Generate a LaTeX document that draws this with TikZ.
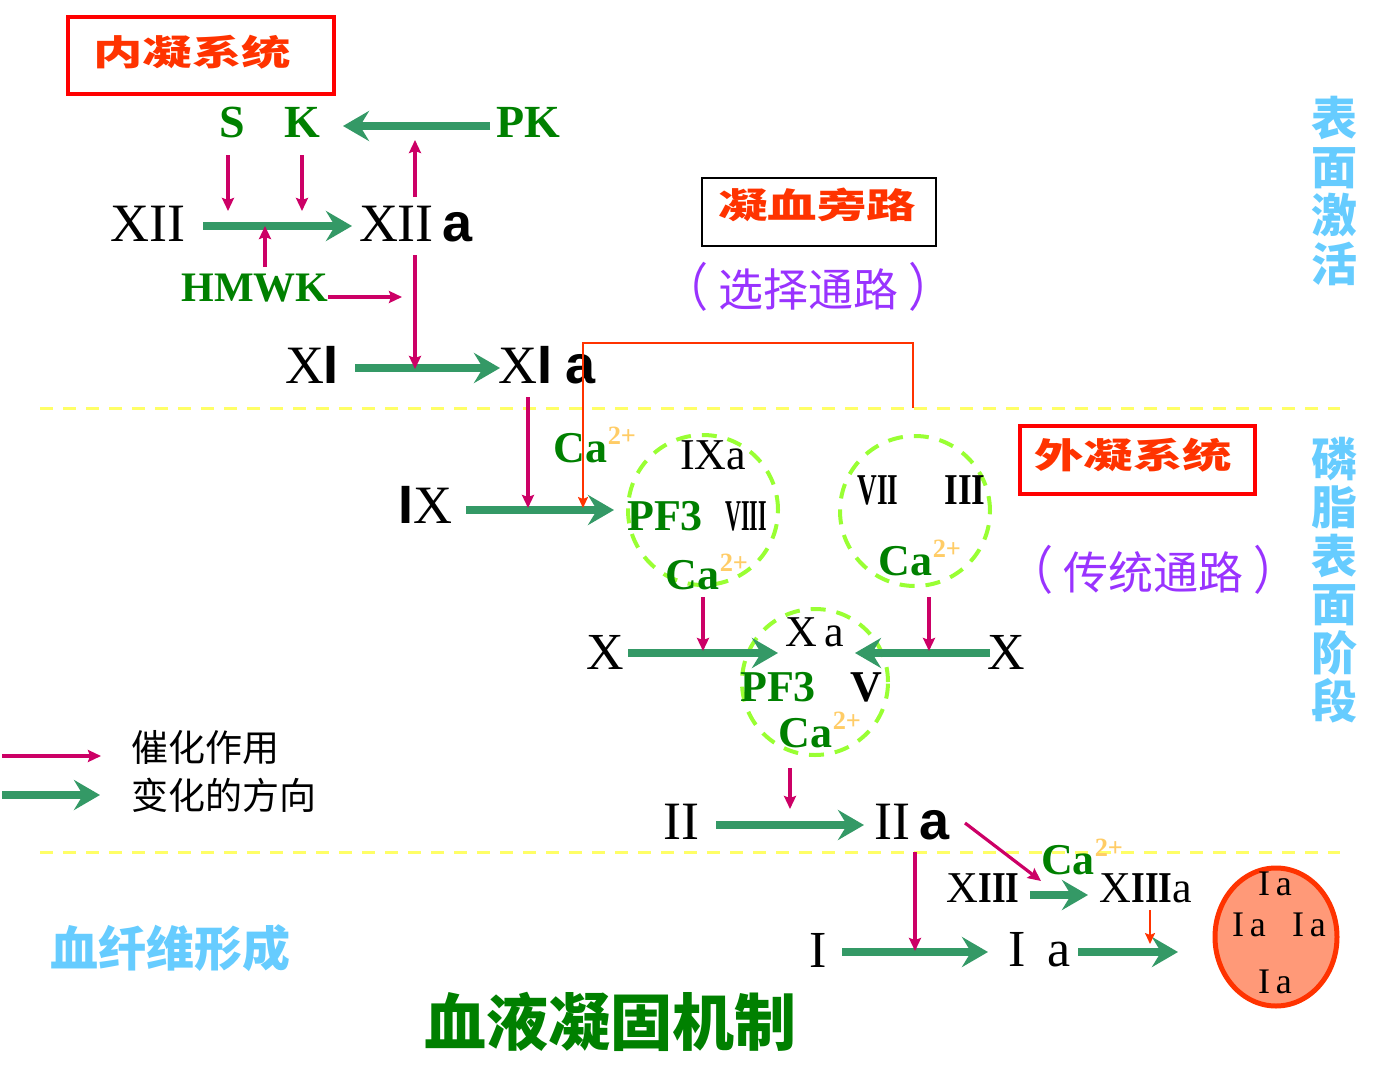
\documentclass[tikz,border=0pt]{standalone}
\usepackage{fontspec}
\setmainfont{Liberation Serif}
\setsansfont{Liberation Sans}
\newfontfamily\cjk{Noto Sans CJK SC}
\usetikzlibrary{arrows.meta,shapes.geometric}
\definecolor{garrow}{RGB}{52,153,102}
\definecolor{mag}{RGB}{204,0,102}
\definecolor{tgreen}{RGB}{0,128,0}
\definecolor{tred}{RGB}{255,51,0}
\definecolor{bred}{RGB}{255,0,0}
\definecolor{caor}{RGB}{255,204,102}
\definecolor{ydash}{RGB}{255,255,102}
\definecolor{cdash}{RGB}{153,255,51}
\definecolor{purp}{RGB}{153,51,255}
\definecolor{lblue}{RGB}{102,204,255}
\definecolor{efill}{RGB}{255,153,120}
\newcommand\fs[1]{\fontsize{#1}{#1}\selectfont}
\newcommand\CaIon{\textbf{Ca}\raisebox{0.42em}{\scalebox{0.6}{\textbf{\color{caor}2+}}}}
\newcommand\ba{{\sffamily\bfseries a}}
\newcommand\bl{{\sffamily\bfseries I}}
\newcommand\ttl[1]{\scalebox{1.3}[0.92]{#1}}
\newcommand\prn[1]{\scalebox{1}[1.15]{（}\kern10pt #1\kern10pt \scalebox{1}[1.15]{）}}
\tikzset{
  lab/.style={inner sep=0pt, anchor=center},
  big/.style={lab, font=\fs{54}},
  mid/.style={lab, font=\fs{44}},
  gb/.style={lab, text=tgreen, font=\fs{46}\bfseries},
  ca/.style={lab, text=tgreen, font=\fs{44}},
  title/.style={inner sep=0pt, anchor=center, text=tred, font=\cjk\fs{38}\bfseries},
  gar/.style={draw=garrow, line width=8pt, -{Stealth[length=26pt,width=30pt,inset=9pt]}},
  mar/.style={draw=mag, line width=3.2pt, -{Stealth[length=13pt,width=12pt,inset=2pt]}},
  oar/.style={draw=tred, line width=1.8pt, -{Stealth[length=11pt,width=10pt,inset=2pt]}},
  ydl/.style={draw=ydash, line width=3pt, dash pattern=on 13pt off 10pt},
  cplx/.style={draw=cdash, line width=4pt, dash pattern=on 15pt off 11pt, circle, inner sep=0pt},
  vt/.style={lab, text=lblue, align=center, font=\cjk\bfseries\fontsize{46}{48.5}\selectfont},
}
\begin{document}
\begin{tikzpicture}[x=1pt,y=-1pt]
\useasboundingbox (0,0) rectangle (1385,1071);
% boxes and titles
\node[draw=bred, line width=4pt, minimum width=266pt, minimum height=77pt, inner sep=0pt] (intbox) at (201,55.5) {};
\node[title] (inttxt) at (192,52) {\ttl{内凝系统}};
\node[draw=black, line width=2pt, minimum width=234pt, minimum height=68pt, inner sep=0pt] (bybox) at (819,212) {};
\node[title] (bytxt) at (817,205) {\ttl{凝血旁路}};
\node[draw=bred, line width=4pt, minimum width=235pt, minimum height=68pt, inner sep=0pt] (extbox) at (1137.5,460) {};
\node[title] (exttxt) at (1133,455) {\ttl{外凝系统}};
\node[lab, text=purp, font=\cjk\fs{45}] (sel) at (808,287) {\prn{选择通路}};
\node[lab, text=purp, font=\cjk\fs{45}] (trad) at (1153,570) {\prn{传统通路}};
\node[vt] (surf) at (1334,191) {表\\面\\激\\活};
\node[vt] (phos) at (1334,580) {磷\\脂\\表\\面\\阶\\段};
\node[lab, text=lblue, font=\cjk\bfseries\fs{48}] (fib) at (170,948) {血纤维形成};
\node[lab, text=tgreen, font=\cjk\bfseries\fs{62}] (mech) at (610,1022) {血液凝固机制};
\node[lab, font=\cjk\fs{37}] (leg1) at (205,748) {催化作用};
\node[lab, font=\cjk\fs{37}] (leg2) at (224,795) {变化的方向};
% dashed separators
\coordinate (y1a) at (40,408); \coordinate (y1b) at (1340,408);
\coordinate (y2a) at (40,852); \coordinate (y2b) at (1340,852);
\draw[ydl] (y1a) -- (y1b);
\draw[ydl] (y2a) -- (y2b);
% intrinsic factors
\node[gb] (S) at (232,122) {S};
\node[gb] (K) at (302,122) {K};
\node[gb] (PK) at (528,122) {PK};
\node[gb, font=\fs{42}\bfseries] (HMWK) at (255,288) {HMWK};
\node[big] (XII) at (148,224) {XII};
\node[big] (XIIa) at (416,224) {XII\,\ba};
\node[big] (XI) at (312,365) {X\bl};
\node[big] (XIa) at (547,365) {X\bl\ \ba};
\node[big] (IX) at (425,505) {\bl X};
\node[ca] (Ca1) at (595,445) {\CaIon};
% complexes
\node[cplx, minimum size=150pt] (c1) at (703,510) {};
\node[cplx, minimum size=150pt] (c2) at (915,511) {};
\node[cplx, minimum size=146pt] (c3) at (815,682) {};
\node[mid] (IXa) at (713,455) {IXa};
\node[gb, font=\fs{44}\bfseries] (PF3a) at (665,516) {PF3};
\node[mid] (VIII) at (746,516) {\scalebox{0.5}[1]{\bfseries VIII}};
\node[ca] (Ca2) at (707,572) {\CaIon};
\node[mid] (VII) at (878,490) {\scalebox{0.62}[1]{\bfseries VII}};
\node[mid] (III) at (965,490) {\scalebox{0.8}[1]{\bfseries III}};
\node[ca] (Ca3) at (920,558) {\CaIon};
\node[mid] (Xa) at (815,632) {X\,a};
\node[gb, font=\fs{44}\bfseries] (PF3b) at (778,687) {PF3};
\node[mid] (V) at (866,687) {\bfseries V};
\node[ca] (Ca4) at (820,730) {\CaIon};
\node[big, font=\fs{52}] (Xl) at (605,652) {X};
\node[big, font=\fs{52}] (Xr) at (1006,652) {X};
\node[big] (II) at (681,822) {II};
\node[big] (IIa) at (912,822) {II\,\ba};
\node[ca] (Ca5) at (1082,857) {\CaIon};
\node[mid] (XIII) at (983,888) {X\scalebox{0.8}[1]{\bfseries III}};
\node[mid] (XIIIa) at (1146,888) {X\scalebox{0.8}[1]{\bfseries III}a};
\node[big, font=\fs{52}] (I) at (818,950) {I};
\node[big, font=\fs{52}] (Ia) at (1040,950) {I\ \,a};
% clot
\node[draw=tred, fill=efill, line width=5pt, ellipse, minimum width=122pt, minimum height=138pt, inner sep=0pt] (clot) at (1276,937) {};
\node[lab, font=\fs{36}] (ia1) at (1275,884) {I\,a};
\node[lab, font=\fs{36}] (ia2) at (1249,925) {I\,a};
\node[lab, font=\fs{36}] (ia3) at (1309,925) {I\,a};
\node[lab, font=\fs{36}] (ia4) at (1275,982) {I\,a};
% green arrows
\coordinate (g1s) at (490,126); \coordinate (g1e) at (343,126);
\coordinate (g2s) at (203,226); \coordinate (g2e) at (352,226);
\coordinate (g3s) at (355,368); \coordinate (g3e) at (500,368);
\coordinate (g4s) at (466,510); \coordinate (g4e) at (614,510);
\coordinate (g5s) at (628,653); \coordinate (g5e) at (778,653);
\coordinate (g6s) at (990,653); \coordinate (g6e) at (855,653);
\coordinate (g7s) at (716,825); \coordinate (g7e) at (864,825);
\coordinate (g8s) at (1030,895); \coordinate (g8e) at (1088,895);
\coordinate (g9s) at (842,952); \coordinate (g9e) at (988,952);
\coordinate (g10s) at (1078,952); \coordinate (g10e) at (1178,952);
\coordinate (lg2s) at (2,795); \coordinate (lg2e) at (100,795);
\foreach \a in {g1,g2,g3,g4,g5,g6,g7,g8,g9,g10,lg2} \draw[gar] (\a s) -- (\a e);
% magenta arrows
\coordinate (m1s) at (228,155); \coordinate (m1e) at (228,211);
\coordinate (m2s) at (302,155); \coordinate (m2e) at (302,211);
\coordinate (m3s) at (265,267); \coordinate (m3e) at (265,226);
\coordinate (m4s) at (328,297); \coordinate (m4e) at (402,297);
\coordinate (m5s) at (415,197); \coordinate (m5e) at (415,140);
\coordinate (m6s) at (415,255); \coordinate (m6e) at (415,369);
\coordinate (m7s) at (528,397); \coordinate (m7e) at (528,508);
\coordinate (m8s) at (703,597); \coordinate (m8e) at (703,651);
\coordinate (m9s) at (929,597); \coordinate (m9e) at (929,651);
\coordinate (m10s) at (790,768); \coordinate (m10e) at (790,809);
\coordinate (m11s) at (965,823); \coordinate (m11e) at (1041,881);
\coordinate (m12s) at (915,852); \coordinate (m12e) at (915,951);
\coordinate (lg1s) at (2,756); \coordinate (lg1e) at (101,756);
\foreach \a in {m1,m2,m3,m4,m5,m6,m7,m8,m9,m10,m11,m12,lg1} \draw[mar] (\a s) -- (\a e);
% orange bypass
\coordinate (o1s) at (913,408); \coordinate (o1e) at (583,508);
\draw[oar] (o1s) -- (913,343) -- (583,343) -- (o1e);
\coordinate (o2s) at (1150,910); \coordinate (o2e) at (1150,944);
\draw[oar] (o2s) -- (o2e);
\end{tikzpicture}
\end{document}
